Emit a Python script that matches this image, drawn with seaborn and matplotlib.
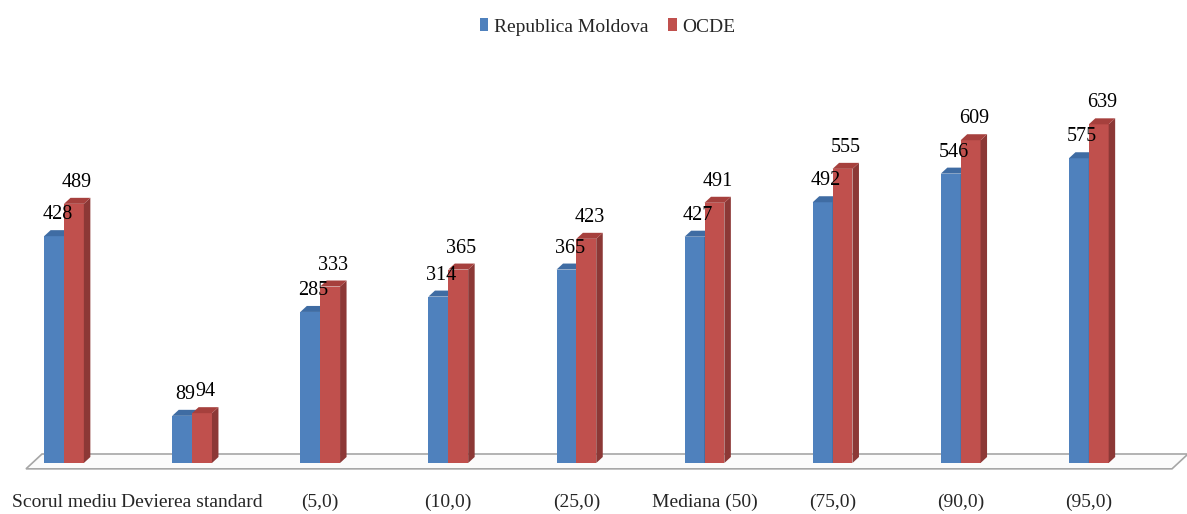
import matplotlib
matplotlib.use("Agg")
import matplotlib.pyplot as plt
import seaborn as sns
import pandas as pd
from matplotlib.patches import Polygon, Patch

categories = ["Scorul mediu", "Devierea standard", "(5,0)", "(10,0)", "(25,0)",
              "Mediana (50)", "(75,0)", "(90,0)", "(95,0)"]
moldova = [428, 89, 285, 314, 365, 427, 492, 546, 575]
ocde = [489, 94, 333, 365, 423, 491, 555, 609, 639]
series_names = ["Republica Moldova", "OCDE"]

front_colors = {"Republica Moldova": "#4F81BD", "OCDE": "#C0504D"}
side_colors = {"Republica Moldova": "#385D8A", "OCDE": "#8C3836"}
top_colors = {"Republica Moldova": "#3F6CA3", "OCDE": "#A6403D"}

df = pd.DataFrame({
    "cat": categories * 2,
    "value": moldova + ocde,
    "series": [series_names[0]] * len(categories) + [series_names[1]] * len(categories),
})

sns.set_theme(style="white")
plt.rcParams["font.family"] = ["Liberation Serif", "DejaVu Serif"]

W, H = 1187, 514
fig = plt.figure(figsize=(W / 100, H / 100), dpi=100)
zero_px = 463          # pixel row of value 0
px_per_unit = 0.53
spacing = 128.1
first_center = 64
ax = fig.add_axes([0, (H - zero_px) / H, 1, zero_px / H])

sns.barplot(data=df, x="cat", y="value", hue="series", order=categories,
            hue_order=series_names, palette=front_colors, width=0.31,
            saturation=1, legend=False, ax=ax, edgecolor="none", linewidth=0)

xmin = -first_center / spacing
xmax = (W - first_center) / spacing
ymax = zero_px / px_per_unit
ax.set_xlim(xmin, xmax)
ax.set_ylim(0, ymax)

dx = 6.5 / spacing
dy = 6.0 / px_per_unit

n = len(categories)
for i, p in enumerate(ax.patches[:2 * n]):
    s = series_names[i // n]
    z = 2 if s == series_names[0] else 3
    p.set_zorder(z)
    x0 = p.get_x()
    w = p.get_width()
    h = p.get_height()
    x1 = x0 + w
    side = Polygon([(x1, 0), (x1 + dx, dy), (x1 + dx, h + dy), (x1, h)],
                   closed=True, facecolor=side_colors[s], edgecolor="none", zorder=z)
    top = Polygon([(x0, h), (x0 + dx, h + dy), (x1 + dx, h + dy), (x1, h)],
                  closed=True, facecolor=top_colors[s], edgecolor="none", zorder=z)
    ax.add_patch(side)
    ax.add_patch(top)
    ax.text(x0 + w / 2 + dx / 2, h + dy + 6 / px_per_unit, f"{int(h)}",
            ha="center", va="bottom", fontsize=14.5, color="black", zorder=5)

# floor
floor_depth = 9 / px_per_unit
fx0 = (26 - first_center) / spacing
fx1 = (1172 - first_center) / spacing
sh = 16 / spacing
floor = Polygon([(fx0, -floor_depth * 0.65), (fx1, -floor_depth * 0.65),
                 (fx1 + sh, floor_depth), (fx0 + sh, floor_depth)],
                closed=True, facecolor="#FBFBFB", edgecolor="#A6A6A6",
                linewidth=1.2, zorder=1, clip_on=False)
ax.add_patch(floor)

ax.set_xticks(range(n))
ax.set_xticklabels(categories, fontsize=14)
ax.tick_params(axis="x", length=0, pad=22)
ax.set_yticks([])
ax.set_xlabel("")
ax.set_ylabel("")
for sp in ax.spines.values():
    sp.set_visible(False)
ax.patch.set_alpha(0)

handles = [Patch(facecolor=front_colors[s], edgecolor="none") for s in series_names]
fig.legend(handles, series_names, loc="center", bbox_to_anchor=(0.512, 1 - 27 / H),
           ncol=2, frameon=False, fontsize=14, handlelength=0.45, handleheight=0.6,
           handletextpad=0.3, columnspacing=1.0)

fig.savefig("out.png", dpi=100)
